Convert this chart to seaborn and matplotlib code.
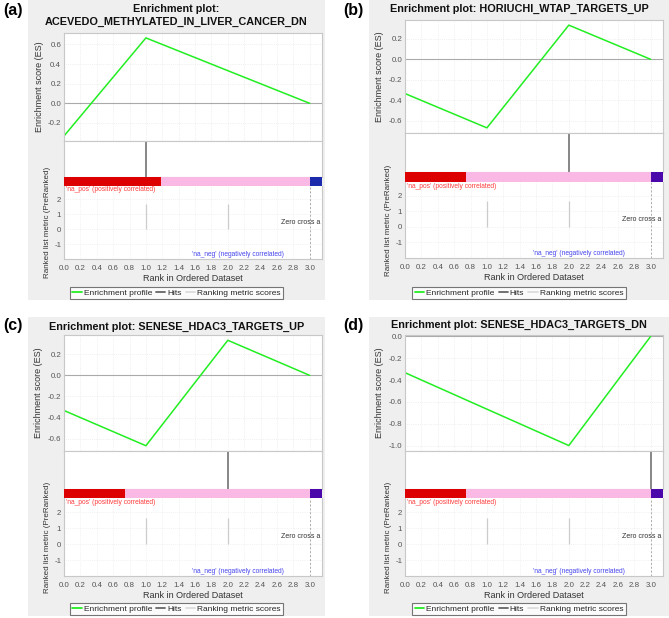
import matplotlib
matplotlib.use("Agg")
import matplotlib.pyplot as plt
from matplotlib.patches import Rectangle
from matplotlib.lines import Line2D
import seaborn as sns
import pandas as pd

sns.set_style("white")
plt.rcParams['font.family'] = ['Liberation Sans', 'DejaVu Sans']
plt.rcParams['axes.unicode_minus'] = False

W, H = 669, 618

# data
rank = [0, 1, 2, 3]
es_a = [-0.333, 0.667, 0.333, 0.0]
es_b = [-0.333, -0.667, 0.333, 0.0]
es_c = [-0.333, -0.667, 0.333, 0.0]
es_d = [-0.333, -0.667, -1.0, 0.0]
es_all = [es_a, es_b, es_c, es_d]
hits = [[1], [2], [2], [3]]
metric_rank = [1, 2]
metric_val = [1.65, 1.65]
pos_end = [1.18, 0.75, 0.75, 0.75]
zero_cross = 3.0
rank_max = 3.15
titles = ['Enrichment plot:\nACEVEDO_METHYLATED_IN_LIVER_CANCER_DN',
          'Enrichment plot: HORIUCHI_WTAP_TARGETS_UP',
          'Enrichment plot: SENESE_HDAC3_TARGETS_UP',
          'Enrichment plot: SENESE_HDAC3_TARGETS_DN']
panel_labels = ['(a)', '(b)', '(c)', '(d)']
es_ylim = [(-0.384, 0.717), (-0.717, 0.383), (-0.717, 0.383), (-1.05, 0.012)]
es_ticks = [[-0.2, 0.0, 0.2, 0.4, 0.6],
            [-0.6, -0.4, -0.2, 0.0, 0.2],
            [-0.6, -0.4, -0.2, 0.0, 0.2],
            [-1.0, -0.8, -0.6, -0.4, -0.2, 0.0]]
neg_colors = ['#1b2bab', '#4a08aa', '#4a08aa', '#4a08aa']

# layout in pixels
boxes = [(28, 0, 325, 300), (369, 0, 669, 300), (28, 317, 325, 616), (369, 317, 669, 616)]
xspan = [(64, 322), (405, 663), (64, 322), (405, 663)]
ysplit = [(33, 141, 177, 186, 259), (20, 133, 172, 182, 258),
          (335, 451, 489, 498, 576), (335, 451, 489, 498, 576)]
title_y = [(9, 22), (9,), (327,), (325,)]
legend_y = [293, 293, 609, 609]
label_pos = [(3, 11), (343, 11), (3, 326), (343, 326)]

fig = plt.figure(figsize=(W / 100, H / 100), dpi=100)
fig.patch.set_facecolor('white')


def ax_px(x0, y0, x1, y1):
    return fig.add_axes([x0 / W, 1 - y1 / H, (x1 - x0) / W, (y1 - y0) / H])


def style(ax):
    for s in ax.spines.values():
        s.set_color('#c8c8c8')
        s.set_linewidth(0.8)
    ax.tick_params(axis='both', labelsize=5.7, colors='#555555', length=0, pad=2)
    ax.set_facecolor('white')


grid_x = [i * 0.2 for i in range(16)]

for i in range(4):
    bx0, by0, bx1, by1 = boxes[i]
    fig.patches.append(Rectangle((bx0 / W, 1 - by1 / H), (bx1 - bx0) / W, (by1 - by0) / H,
                                 transform=fig.transFigure, facecolor='#efefef',
                                 edgecolor='none', zorder=-5))
    cx = (bx0 + bx1) / 2
    lines = titles[i].split('\n')
    for t, ty in zip(lines, title_y[i]):
        fig.text(cx / W, 1 - ty / H, t, ha='center', va='center', fontsize=7.8,
                 fontweight='bold', color='#111111')
    lx, ly = label_pos[i]
    fig.text(lx / W, 1 - ly / H, panel_labels[i], ha='left', va='center',
             fontsize=11.5, fontweight='bold', color='black')

    x0, x1 = xspan[i]
    y_es, y_hit, y_bar, y_rank, y_end = ysplit[i]

    # enrichment score
    ax = ax_px(x0, y_es, x1, y_hit)
    style(ax)
    df = pd.DataFrame({'rank': rank, 'es': es_all[i]})
    sns.lineplot(data=df, x='rank', y='es', ax=ax, color='#22ee22', linewidth=1.1)
    ax.axhline(0, color='#aaaaaa', linewidth=0.8, zorder=1)
    for g in grid_x:
        ax.axvline(g, color='#e4e4e4', linewidth=0.5, linestyle=':', zorder=0)
    for g in es_ticks[i]:
        ax.axhline(g, color='#e4e4e4', linewidth=0.5, linestyle=':', zorder=0)
    ax.set_xlim(0, rank_max)
    ax.set_ylim(*es_ylim[i])
    ax.set_yticks(es_ticks[i])
    ax.set_yticklabels([f'{v:.1f}' for v in es_ticks[i]])
    ax.set_xticks([])
    ax.set_xlabel('')
    ax.set_ylabel('Enrichment score (ES)', fontsize=6.5, color='#333333', labelpad=3)

    # hits
    axh = ax_px(x0, y_hit, x1, y_bar)
    style(axh)
    axh.vlines(hits[i], 0, 1, color='#666666', linewidth=1.1)
    axh.set_xlim(0, rank_max)
    axh.set_ylim(0, 1)
    axh.set_xticks([])
    axh.set_yticks([])

    # correlation bar
    axb = ax_px(x0, y_bar, x1, y_rank)
    style(axb)
    seg_left = [0, pos_end[i], zero_cross]
    seg_width = [pos_end[i], zero_cross - pos_end[i], rank_max - zero_cross]
    axb.barh([0, 0, 0], seg_width, left=seg_left, height=1,
             color=['#dd0000', '#f9b9e4', neg_colors[i]], edgecolor='none')
    axb.set_xlim(0, rank_max)
    axb.set_ylim(-0.5, 0.5)
    axb.set_xticks([])
    axb.set_yticks([])
    for s in axb.spines.values():
        s.set_visible(False)

    # ranked list metric
    axr = ax_px(x0, y_rank, x1, y_end)
    style(axr)
    axr.spines['top'].set_visible(False)
    axr.vlines(metric_rank, 0, metric_val, color='#cccccc', linewidth=0.9)
    for g in grid_x:
        axr.axvline(g, color='#e8e8e8', linewidth=0.5, linestyle=':', zorder=0)
    for g in [-1, 0, 1, 2]:
        axr.axhline(g, color='#e8e8e8', linewidth=0.5, linestyle=':', zorder=0)
    axr.axvline(zero_cross, color='#aaaaaa', linewidth=0.7, linestyle=(0, (2, 2)))
    axr.set_xlim(0, rank_max)
    axr.set_ylim(-2.0, 2.88)
    axr.set_yticks([-1, 0, 1, 2])
    axr.set_xticks(grid_x)
    axr.set_xticklabels([f'{v:.1f}' for v in grid_x])
    axr.tick_params(axis='x', pad=4)
    axr.text(0.02, 2.62, "'na_pos' (positively correlated)", color='#ff3b3b',
             fontsize=4.8, ha='left', va='center')
    axr.text(2.12, -1.7, "'na_neg' (negatively correlated)", color='#4646ee',
             fontsize=4.8, ha='center', va='center')
    axr.text(3.13, 0.45, 'Zero cross a', color='#333333', fontsize=5,
             ha='right', va='center')
    axr.set_xlabel('Rank in Ordered Dataset', fontsize=6.5, color='#333333', labelpad=2)
    axr.set_ylabel('Ranked list metric (PreRanked)', fontsize=5.8, color='#333333',
                   labelpad=2)

    handles = [Line2D([], [], color='#22ee22', lw=1.3),
               Line2D([], [], color='#666666', lw=1.3),
               Line2D([], [], color='#dddddd', lw=1.3)]
    leg = fig.legend(handles, ['Enrichment profile', 'Hits', 'Ranking metric scores'],
                     loc='center', bbox_to_anchor=(cx / W, 1 - legend_y[i] / H),
                     ncol=3, fontsize=6.0, frameon=True, fancybox=False,
                     handlelength=1.1, handletextpad=0.25, columnspacing=0.5,
                     borderpad=0.3, borderaxespad=0)
    leg.get_frame().set_edgecolor('#555555')
    leg.get_frame().set_linewidth(0.8)
    leg.get_frame().set_facecolor('white')

fig.savefig('out.png', dpi=100)
